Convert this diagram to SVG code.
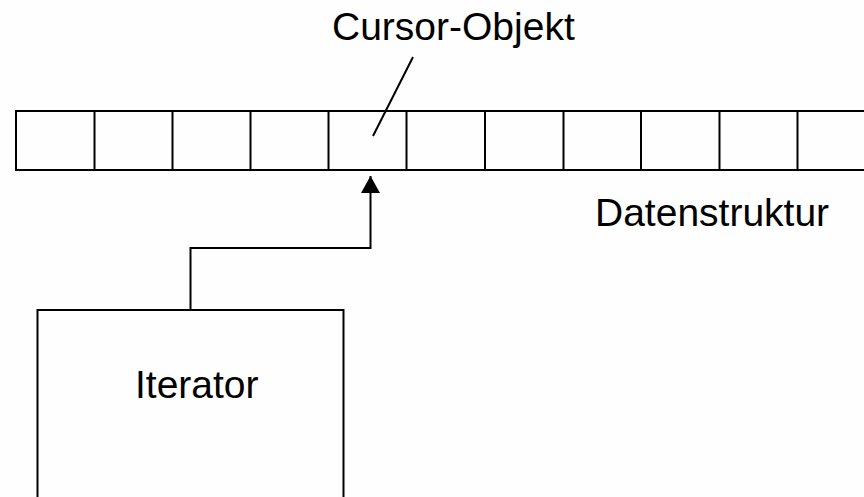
<svg xmlns="http://www.w3.org/2000/svg" width="864" height="497" viewBox="0 0 864 497">
  <defs>
    <style>
      .ln { fill: none; stroke: #000; stroke-width: 2; }
      .lbl { font-family: "Liberation Sans", Arial, sans-serif; font-size: 39px; fill: #000; }
    </style>
    <marker id="arr" viewBox="0 0 20 16" refX="10" refY="0" markerWidth="20" markerHeight="16" markerUnits="userSpaceOnUse" orient="auto-start-reverse">
      <path d="M10 0 L19 16 L1 16 Z" fill="#000"/>
    </marker>
  </defs>
  <rect width="864" height="497" fill="#fdfefd"/>
  <g id="datenstruktur">
    <path class="ln" d="M870 111 H16 V170 H870"/>
    <path class="ln" d="M94.5 111 V170 M172.5 111 V170 M250.5 111 V170 M328.5 111 V170 M406.5 111 V170 M485 111 V170 M563.5 111 V170 M641 111 V170 M719.5 111 V170 M797.5 111 V170"/>
    <text class="lbl" x="595" y="226">Datenstruktur</text>
  </g>
  <g id="cursor-objekt">
    <text class="lbl" x="332" y="40">Cursor-Objekt</text>
  </g>
  <g id="iterator">
    <path class="ln" d="M37.5 500 V310 H343.5 V500"/>
    <text class="lbl" x="135" y="398">Iterator</text>
  </g>
  <g id="connectors">
    <path class="ln" d="M413 57 L373 136"/>
    <path class="ln" d="M190.5 310 V248 H370.5 V176"/>
    <path d="M370.5 176 L380 193 L361 193 Z" fill="#000"/>
  </g>
</svg>
